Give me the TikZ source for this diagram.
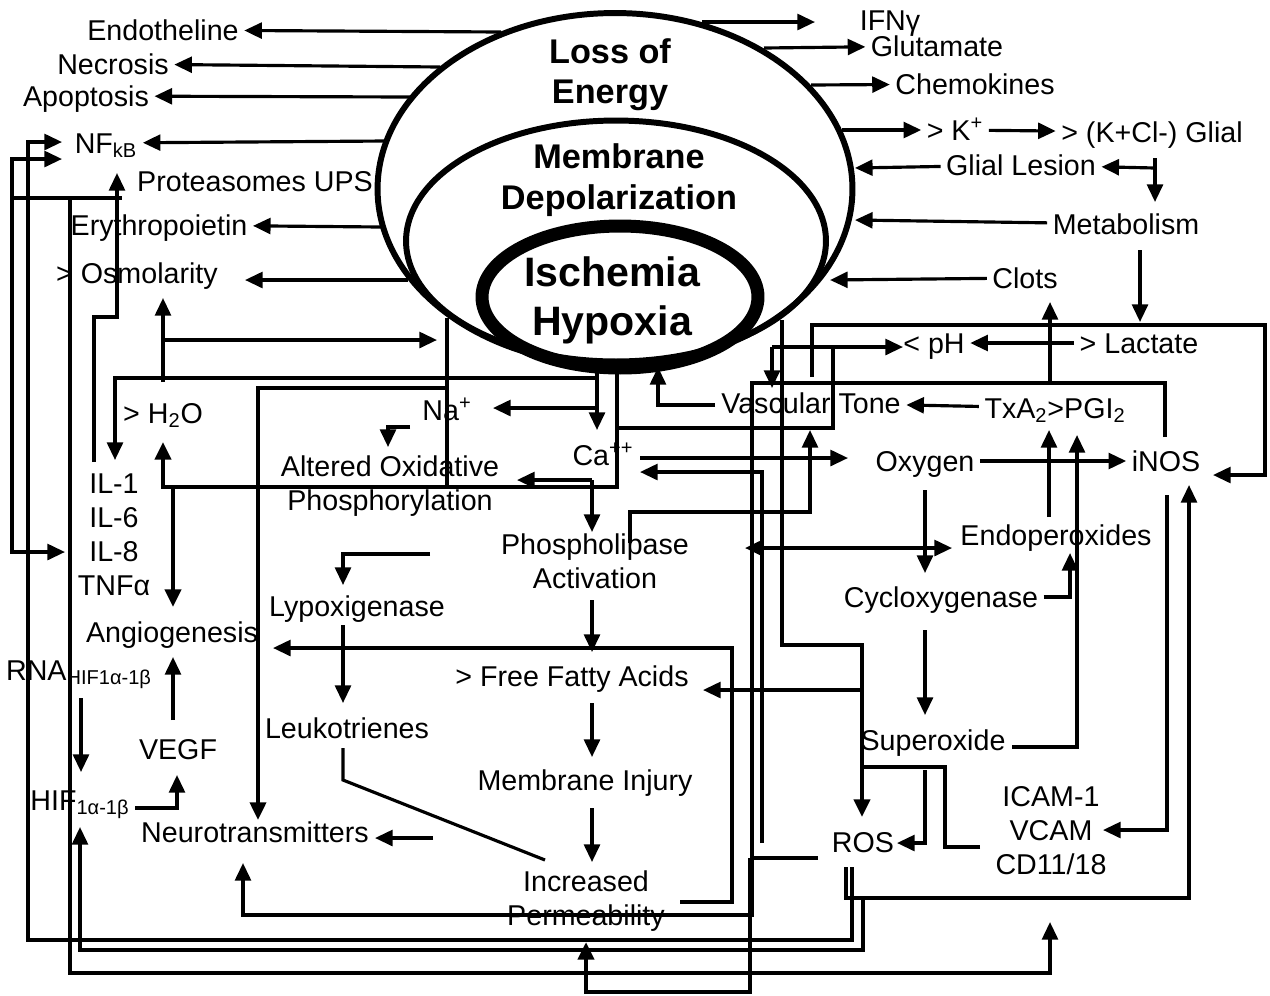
\documentclass[tikz,border=0pt]{standalone}
\usepackage{fontspec}
\setmainfont{Liberation Sans}
\usetikzlibrary{arrows.meta}
\begin{document}
\begin{tikzpicture}[
  x=0.02cm, y=-0.02cm,
  >={Triangle[length=10pt,width=9pt]},
  flow/.style={draw=black,line width=1.8pt,->},
  both/.style={draw=black,line width=1.8pt,<->},
  link/.style={draw=black,line width=1.8pt},
  heavy/.style={line width=2.8pt},
  lbl/.style={font=\fontsize{16.3}{19.3}\selectfont,inner sep=3pt,text height=11.7pt,text depth=0pt},
  lbls/.style={font=\fontsize{16.3}{19.3}\selectfont,inner sep=3pt,align=center},
  core/.style={font=\bfseries\fontsize{19.5}{23}\selectfont,align=center,inner sep=0pt},
  big/.style={font=\bfseries\fontsize{23.4}{28}\selectfont,align=center,inner sep=0pt}
]
  \useasboundingbox (0,0) rectangle (1270,995);

  \draw[line width=3.4pt] (615,189) ellipse [x radius=4.75cm, y radius=3.52cm];
  \draw[line width=3.4pt] (616,241) ellipse [x radius=4.2cm, y radius=2.41cm];
  \draw[line width=7.4pt] (620,297) ellipse [x radius=2.76cm, y radius=1.42cm];

  \node[core] (loss) at (610,75) {Loss of\\Energy};
  \node[core] (memb) at (619,180) {Membrane\\Depolarization};
  \node[big] (isch) at (612,300) {Ischemia\\Hypoxia};

  \node[lbl] (endo) at (163,30) {Endotheline};
  \node[lbl] (necro) at (113,64) {Necrosis};
  \node[lbl] (apop) at (86,96) {Apoptosis};
  \node[lbl] (nfkb) at (106,143) {NF\textsubscript{kB}};
  \node[lbl] (prot) at (255,181) {Proteasomes UPS};
  \node[lbl] (ery) at (159,225) {Erythropoietin};
  \node[lbl] (osmo) at (137,273) {> Osmolarity};
  \node[lbl] (h2o) at (163,413) {> H\textsubscript{2}O};
  \node[lbls] (il) at (114,535) {IL-1\\IL-6\\IL-8\\TNFα};
  \node[lbl] (angio) at (172,632) {Angiogenesis};
  \node[lbl] (rna) at (79,670) {RNA\textsubscript{HIF1α-1β}};
  \node[lbl] (vegf) at (178,749) {VEGF};
  \node[lbl] (hif) at (80,800) {HIF\textsubscript{1α-1β}};
  \node[lbl] (neuro) at (255,832) {Neurotransmitters};

  \node[lbl] (na) at (447,410) {Na\textsuperscript{+}};
  \node[lbl] (ca) at (603,455) {Ca\textsuperscript{++}};
  \node[lbls] (aop) at (390,486) {Altered Oxidative\\Phosphorylation};
  \node[lbls] (phos) at (595,561) {Phospholipase\\Activation};
  \node[lbl] (lypo) at (357,606) {Lypoxigenase};
  \node[lbl] (leuko) at (347,728) {Leukotrienes};
  \node[lbl] (ffa) at (572,676) {> Free Fatty Acids};
  \node[lbl] (minj) at (585,780) {Membrane Injury};
  \node[lbls] (perm) at (586,901) {Increased\\Permeability};

  \node[lbl] (ifn) at (890,20) {IFNγ};
  \node[lbl] (glut) at (937,46) {Glutamate};
  \node[lbl] (chemo) at (975,84) {Chemokines};
  \node[lbl] (kplus) at (955,130) {> K\textsuperscript{+}};
  \node[lbl] (kcl) at (1152,132) {> (K+Cl-) Glial};
  \node[lbl] (glial) at (1021,165) {Glial Lesion};
  \node[lbl] (metab) at (1126,224) {Metabolism};
  \node[lbl] (clots) at (1025,278) {Clots};
  \node[lbl] (ph) at (934,343) {< pH};
  \node[lbl] (lact) at (1139,343) {> Lactate};
  \node[lbl] (vasc) at (811,403) {Vascular Tone};
  \node[lbl] (txa) at (1055,408) {TxA\textsubscript{2}>PGI\textsubscript{2}};
  \node[lbl] (oxy) at (925,461) {Oxygen};
  \node[lbl] (inos) at (1166,461) {iNOS};
  \node[lbl] (endop) at (1056,535) {Endoperoxides};
  \node[lbl] (cyclo) at (941,597) {Cycloxygenase};
  \node[lbl] (super) at (933,740) {Superoxide};
  \node[lbl] (ros) at (863,842) {ROS};
  \node[lbls] (icam) at (1051,831) {ICAM-1\\VCAM\\CD11/18};

  \draw[flow] (501,32) -- (endo);
  \draw[flow] (440,67) -- (necro);
  \draw[flow] (410,97) -- (apop);
  \draw[flow] (385,141) -- (nfkb);
  \draw[flow] (381,227) -- (ery);
  \draw[flow] (408,280) -- (245,280);

  \draw[flow] (702,22) -- (815,22);
  \draw[flow] (764,48) -- (glut);
  \draw[flow] (811,85) -- (chemo);
  \draw[flow] (842,130) -- (kplus);
  \draw[flow] (kplus) -- (kcl);
  \draw[flow] (glial) -- (855,168);
  \draw[flow] (metab) -- (855,220);
  \draw[flow] (clots) -- (830,280);
  \draw[flow] (1155,168) -- (glial);
  \draw[flow] (1155,158) -- (1155,202);
  \draw[flow] (1140,250) -- (1140,322);
  \draw[flow] (lact) -- (ph);

  \draw[flow] (812,377) -- (812,325) -- (1265,325) -- (1265,475) -- (1213,475);
  \draw[flow] (txa) -- (vasc);
  \draw[flow] (715,405) -| (658,367);
  \draw[flow] (1049,517) -- (1049,430);
  \draw[flow] (1012,747) -| (1077,435);
  \draw[flow] (cyclo.east) -| (1070,553);
  \draw[flow] (oxy) -- (inos);
  \draw[flow] (925,490) -- (925,573);
  \draw[flow] (925,630) -- (925,715);
  \draw[both] (745,548) -- (952,548);
  \draw[flow] (1167,495) |- (1103,830);
  \draw[flow] (1165,437) -- (1165,383) -- (752,383) -- (752,915) -- (243,915) -- (243,863);
  \draw[flow] (1050,383) -- (1050,302);

  \draw[link] (782,320) -- (782,645) -- (862,645) -- (862,690);
  \draw[flow,heavy] (862,690) -- (862,817);
  \draw[flow] (862,690) -- (703,690);
  \draw[flow] (925,770) |- (897,843);
  \draw[link] (980,847) -| (945,767) -- (862,767);
  \draw[link] (818,858) -- (750,858);
  \draw[flow,heavy] (750,858) -- (750,992) -| (586,942);
  \draw[flow] (762,843) |- (640,472);
  \draw[flow] (640,458) -- (848,458);
  \draw[flow] (630,543) |- (810,512) -- (810,430);

  \draw[link] (617,372) -- (617,487) -- (333,487);
  \draw[flow,heavy] (333,487) -- (163,487) -- (163,442);
  \draw[flow,heavy] (173,487) -- (173,607);
  \draw[link] (617,428) -- (833,428) -- (833,347) -- (772,347);
  \draw[flow] (833,347) -- (903,347);
  \draw[heavy] (833,347) -- (875,347);
  \draw[flow] (772,347) -- (772,388);

  \draw[flow] (597,372) -- (597,430);
  \draw[flow] (597,378) -- (115,378) -- (115,460);
  \draw[flow] (597,408) -- (493,408);
  \draw[link] (447,318) -- (447,487);
  \draw[flow,line width=2.2pt] (447,388) -- (258,388) -- (258,820);
  \draw[flow] (163,382) -- (163,298);
  \draw[flow] (163,340) -- (437,340);
  \draw[flow] (592,480) -- (517,480);
  \draw[flow] (592,480) -- (592,532);
  \draw[flow] (410,427) -| (388,447);
  \draw[flow] (430,554) -| (343,585);
  \draw[flow] (343,625) -- (343,703);
  \draw[link] (343,748) -- (343,780) -- (545,860);
  \draw[flow] (433,838) -- (375,838);
  \draw[flow] (592,600) -- (592,652);
  \draw[flow] (592,703) -- (592,757);
  \draw[flow] (592,808) -- (592,862);
  \draw[flow] (680,902) -| (732,648) -- (273,648);
  \draw[flow] (173,720) -- (173,657);
  \draw[flow] (135,808) -| (177,775);
  \draw[flow] (81,698) -- (81,772);
  \draw[flow] (94,462) |- (117,317) -- (117,173);

  \draw[both] (65,552) -| (12,159) -- (62,159);
  \draw[link] (10,198) -- (122,198);
  \draw[flow] (70,198) -- (70,973) -- (1050,973) -- (1050,922);
  \draw[flow] (852,867) -- (852,940) -- (28,940) -- (28,142) -- (62,142);
  \draw[flow] (846,867) -- (846,898) -- (1189,898) -- (1189,485);
  \draw[flow] (863,898) -- (863,950) -- (80,950) -- (80,827);
\end{tikzpicture}
\end{document}
